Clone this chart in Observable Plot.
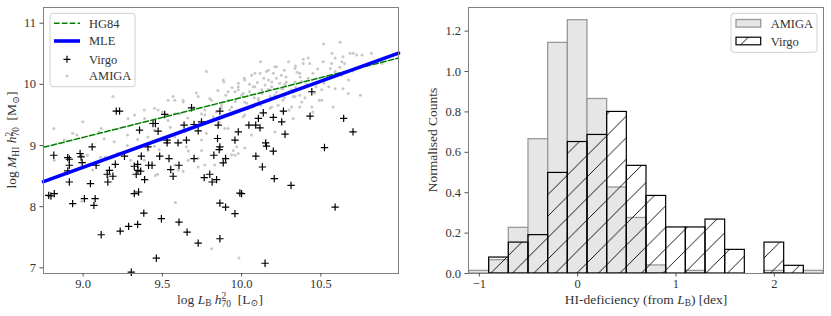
<!DOCTYPE html>
<html><head><meta charset="utf-8">
<script src="https://cdn.jsdelivr.net/npm/d3@7"></script>
<script src="https://cdn.jsdelivr.net/npm/@observablehq/plot@0.6"></script>
<style>
body{margin:0;background:#fff;}
#wrap{position:relative;width:831px;height:316px;}
#left{position:absolute;left:0;top:0;}
#right{position:absolute;left:420px;top:0;}
</style></head><body><div id="wrap"><div id="left"></div><div id="right"></div></div>
<script>
const FONT = "'Liberation Serif', 'DejaVu Serif', serif";
const TXT = "#333";

// ---- Left panel data ----
const virgoLogL = [9.209,9.230,9.684,9.515,9.863,10.443,10.432,10.644,10.703,10.523,10.137,10.2,10.264,10.106,10.253,10.046,10.089,10.116,10.274,9.979,10.152,10.157,10.2,9.958,9.848,9.863,9.859,10.09,9.899,9.825,9.852,9.747,9.70,9.726,9.637,9.652,9.599,9.53,9.53,9.441,9.456,9.473,9.356,9.409,9.483,9.542,9.70,9.367,9.261,9.057,8.981,8.987,8.903,8.913,8.815,8.913,8.903,8.913,8.994,8.783,8.797,8.818,8.934,9.008,9.046,9.082,9.076,9.068,9.114,9.152,9.166,9.156,9.188,9.203,9.234,9.287,9.304,9.323,9.35,9.323,9.344,9.335,9.346,9.363,9.388,9.383,9.344,9.413,9.435,9.462,9.494,9.553,9.568,9.605,9.605,9.656,9.726,9.764,9.799,9.814,9.842,9.863,9.899,9.863,9.884,9.958,9.989,10.0,10.131,10.148,10.206,10.312,10.59];
const virgoLogM = [9.562,9.562,9.617,9.508,9.562,9.879,9.48,9.443,9.223,8.967,9.535,9.459,9.562,9.443,9.387,9.333,9.333,9.289,9.185,9.223,9.043,8.989,8.907,9.087,9.115,8.977,8.934,8.825,8.787,8.841,9.333,9.387,9.344,9.239,9.333,9.087,9.043,9.087,9.043,9.36,9.36,9.234,9.251,8.977,8.825,8.787,8.787,8.825,8.825,8.977,8.869,8.813,8.803,8.775,8.841,8.677,8.584,8.403,8.721,8.185,8.174,8.213,8.049,8.131,8.377,8.677,8.131,8.021,7.541,8.53,8.595,8.403,8.497,8.693,7.60,7.677,6.928,8.213,8.24,8.661,8.693,8.53,8.595,8.579,8.443,7.895,7.71,8.677,8.677,7.157,7.803,8.607,8.497,8.677,7.748,7.584,7.403,8.475,8.53,8.403,8.443,8.059,7.993,7.475,8.715,7.885,8.223,8.213,8.649,7.075,8.458,8.349,7.993];

const amigaLogL = [10.517,10.622,10.685,10.76,10.82,10.886,10.633,10.59,10.57,10.39,10.296,10.43,10.337,10.21,10.157,10.084,10.02,9.778,9.979,9.884,9.188,9.114,8.998,8.815,8.934,9.451,9.473,9.578,9.631,9.726,9.799,9.958,10.074,10.169,10.274,10.369,10.59,10.675,10.749,10.506,10.38,10.337,9.325,9.388,9.283,9.61,9.768,9.873,9.937,10.02,10.106,10.21,10.253,10.127,10.01,9.915,9.82,9.747,9.536,9.641,9.578,9.494,9.409,9.747,9.915,10.02,10.19,10.316,10.443,10.506,10.59,10.41,10.316,10.19,
10.12,9.888,10.017,10.063,10.116,10.169,10.22,9.567,9.715,9.631,9.536,9.81,9.915,9.979,10.0,10.084,10.148,10.19,10.22,10.032,10.106,10.18,9.873,9.925,9.768,9.578,10.01,10.18,10.23,9.894,9.778,10.063,10.21,
10.42,10.388,10.515,10.568,10.64,10.65,10.705,10.726,10.45,10.536,10.63,10.367,10.283,10.336,10.4,10.47,10.55,10.64,10.673,10.577,10.49,10.367,10.325,10.26,10.367,10.30,10.325,10.45,10.26,10.25,10.27,
9.652,9.663,9.747,9.578,9.6,9.631,9.663,9.726,9.83,9.947,9.968,10.02,9.937,9.582,9.81,9.983,
8.818,8.998,8.992,9.06,9.156,9.456,9.47,9.726,9.768,9.958,9.979,
9.386,9.50,8.96,8.88,9.10,9.133,9.196,9.28,9.344,9.28,9.45,9.41,9.48,9.217,9.027,9.11,9.14,9.30,9.386,
10.05,10.08,10.13,10.17,10.22,10.27,10.30,10.34,10.38,10.42,10.35,10.28,10.24,10.14,10.10,10.05,9.98,9.94,9.90,9.85,9.96,10.04,10.12,10.26,10.40,10.46,10.52,10.48,10.56,10.62,10.70,10.34,10.20,9.84,9.70,9.66,9.55,9.45,9.62,9.86];
const amigaLogM = [10.66,10.69,10.51,10.48,10.51,10.34,10.37,10.43,10.51,10.41,10.37,10.34,10.26,10.29,10.21,10.18,10.07,10.21,9.96,10.07,9.80,9.28,9.39,9.28,9.20,9.61,9.58,9.74,9.71,9.80,9.77,9.88,9.96,10.07,10.0,10.12,10.21,10.07,9.82,9.74,9.71,9.80,9.50,9.44,9.44,9.52,9.58,9.66,9.63,9.71,9.77,9.82,9.93,9.91,9.85,9.74,9.47,9.52,9.41,9.22,9.14,9.09,9.14,9.09,9.28,9.50,9.63,9.63,9.63,9.91,9.93,10.0,9.91,9.96,
10.37,10.04,10.1,10.15,10.18,10.23,10.29,9.8,9.86,9.74,9.74,9.74,9.88,9.91,9.82,9.96,9.99,10.04,10.1,9.69,9.74,9.80,9.61,9.58,9.50,9.52,9.47,9.61,9.66,9.28,9.20,9.17,9.22,
10.43,10.34,10.37,10.34,10.45,10.34,10.51,10.48,10.18,10.12,10.15,10.18,10.04,10.04,9.96,9.96,9.96,9.93,9.85,9.63,9.74,9.82,9.8,9.74,9.63,9.58,9.44,9.55,9.93,10.15,10.23,
8.98,8.91,8.92,8.68,8.6,8.58,8.76,8.65,8.68,8.92,8.98,8.96,8.85,8.07,7.31,7.16,
8.76,8.84,8.09,8.6,8.49,8.51,8.53,8.79,8.68,8.84,8.87,
9.58,9.55,9.17,9.09,9.22,9.11,9.06,9.17,9.10,9.0,8.99,8.92,8.93,8.87,8.84,8.81,8.81,8.76,8.76,
9.88,9.78,9.85,9.92,9.87,9.78,9.88,9.95,10.05,10.10,10.20,10.12,10.02,10.10,10.03,10.00,10.02,9.95,9.82,9.90,9.72,9.60,9.66,9.55,9.78,9.86,10.02,10.25,10.26,10.28,10.22,10.30,10.18,9.55,9.62,9.45,9.30,9.25,9.05,9.38];

// fitted relations (end points at the panel limits)
const fitLogL = [8.75, 10.99];
const hg84LogM = [8.97, 10.43];
const mleLogM = [8.41, 10.51];

const xTicksL = [9.0, 9.5, 10.0, 10.5];
const yTicksL = [7, 8, 9, 10, 11];

// ---- Right panel data ----
const binLeft = [-1.1,-0.9,-0.7,-0.5,-0.3,-0.1,0.1,0.3,0.5,0.7,0.9,1.1,1.3,1.5,1.7,1.9,2.1,2.3];
const amigaNorm = [0.013,0.066,0.226,0.665,1.142,1.254,0.864,0.426,0.275,0.04,0,0.013,0,0,0,0.013,0,0.013];
const virgoNorm = [0,0.079,0.153,0.19,0.498,0.651,0.686,0.80,0.533,0.384,0.228,0.228,0.267,0.117,0,0.153,0.038,0];
const binWidth = 0.2;
const xTicksR = [-1, 0, 1, 2];
const yTicksR = [0, 0.2, 0.4, 0.6, 0.8, 1.0, 1.2];

const virgo = virgoLogL.map((x, i) => ({x, y: virgoLogM[i]}));
const amiga = amigaLogL.map((x, i) => ({x, y: amigaLogM[i]}));
const hg84 = fitLogL.map((x, i) => ({x, y: hg84LogM[i]}));
const mle = fitLogL.map((x, i) => ({x, y: mleLogM[i]}));
const amigaBins = binLeft.map((b, i) => ({x1: b, x2: b + binWidth, v: amigaNorm[i]})).filter(d => d.v > 0);
const virgoBins = binLeft.map((b, i) => ({x1: b, x2: b + binWidth, v: virgoNorm[i]})).filter(d => d.v > 0);

const style = {fontFamily: FONT, fontSize: "12.5px", color: TXT, background: "white", overflow: "visible"};
const fmtInt = d => (d < 0 ? "\u2212" : "") + Math.abs(d);

const left = Plot.plot({
  width: 410, height: 316,
  marginLeft: 43, marginRight: 12, marginTop: 7, marginBottom: 43,
  style,
  x: {domain: [8.75, 10.99], label: null},
  y: {domain: [6.907, 11.257], label: null},
  marks: [
    Plot.dot(amiga, {x: "x", y: "y", r: 1.5, fill: "#c8c8c8", stroke: null}),
    Plot.dot(virgo, {x: "x", y: "y", symbol: "plus", r: 2.5, stroke: "#000", strokeWidth: 1.2}),
    Plot.line(hg84, {x: "x", y: "y", stroke: "#008000", strokeWidth: 1.5, strokeDasharray: "5.5,2.4"}),
    Plot.line(mle, {x: "x", y: "y", stroke: "#0000ff", strokeWidth: 3.6}),
    Plot.frame({stroke: "#808080"}),
    Plot.axisX({ticks: xTicksL, tickFormat: d => d.toFixed(1), tickSize: 3.5, tickPadding: 2, label: null, stroke: "#555"}),
    Plot.axisY({ticks: yTicksL, tickFormat: fmtInt, tickSize: 3.5, tickPadding: 4, label: null, stroke: "#555"})
  ]
});

const right = Plot.plot({
  width: 411, height: 316,
  marginLeft: 48, marginRight: 8, marginTop: 7, marginBottom: 43,
  style,
  x: {domain: [-1.11, 2.5], label: null},
  y: {domain: [0, 1.317], label: null},
  marks: [
    Plot.rect(amigaBins, {x1: "x1", x2: "x2", y1: () => 0, y2: "v", fill: "#e6e6e6", stroke: "#999", strokeWidth: 1.3}),
    Plot.rect(virgoBins, {x1: "x1", x2: "x2", y1: () => 0, y2: "v", fill: "url(#hatchR)", stroke: "#000", strokeWidth: 1.2}),
    Plot.frame({stroke: "#808080"}),
    Plot.axisX({ticks: xTicksR, tickFormat: fmtInt, tickSize: 3.5, tickPadding: 2, label: null, stroke: "#555"}),
    Plot.axisY({ticks: yTicksR, tickFormat: d => d.toFixed(1), tickSize: 3.5, tickPadding: 4, label: null, stroke: "#555"})
  ]
});

document.getElementById("left").appendChild(left);
document.getElementById("right").appendChild(right);

function hatch(svg, id) {
  const s = 21.5;
  const p = svg.insert("defs", ":first-child").append("pattern")
    .attr("id", id).attr("patternUnits", "userSpaceOnUse")
    .attr("width", s).attr("height", s);
  const g = p.append("g").attr("stroke", "#000").attr("stroke-width", 0.9);
  g.append("line").attr("x1", 0).attr("y1", s).attr("x2", s).attr("y2", 0);
  g.append("line").attr("x1", -2).attr("y1", 2).attr("x2", 2).attr("y2", -2);
  g.append("line").attr("x1", s - 2).attr("y1", s + 2).attr("x2", s + 2).attr("y2", s - 2);
}

// rich text: parts = [text, kind, extra]; kinds: n, i, sub, stack (sup with sub under it)
function rich(t, parts, fs) {
  const small = fs * 0.7;
  let pend = 0;
  const add = (txt, opts = {}) => {
    const s = t.append("tspan").text(txt);
    const dy = (opts.dy || 0) + pend;
    pend = 0;
    if (dy) s.attr("dy", dy);
    if (opts.dx) s.attr("dx", opts.dx);
    if (opts.italic) s.attr("font-style", "italic");
    if (opts.small) s.attr("font-size", small);
    return s;
  };
  parts.forEach(([txt, kind, extra]) => {
    if (kind === "n") add(txt);
    else if (kind === "i") add(txt, {italic: true});
    else if (kind === "sub") { add(txt, {small: true, dy: fs * 0.22}); pend = -fs * 0.22; }
    else if (kind === "stack") {
      add(txt, {small: true, dy: -fs * 0.32});
      add(extra[0], {small: true, dx: -extra[1], dy: fs * 0.56});
      pend = -fs * 0.24;
    }
  });
}

const L = d3.select(left);
const R = d3.select(right);
hatch(R, "hatchR");
const LFS = 13.5;

// left x label
{
  const t = L.append("text").attr("x", 220).attr("y", 303.5).attr("text-anchor", "middle")
    .attr("font-family", FONT).attr("font-size", LFS).attr("fill", TXT);
  rich(t, [["log ", "n"], ["L", "i"], ["B", "sub"], [" ", "n"], ["h", "i"], ["2", "stack", ["70", 4.7]], ["  [L", "n"], ["\u2299", "sub"], ["]", "n"]], LFS);
}
// left y label
{
  const t = L.append("text").attr("transform", "translate(16,140) rotate(-90)").attr("text-anchor", "middle")
    .attr("font-family", FONT).attr("font-size", LFS).attr("fill", TXT);
  rich(t, [["log ", "n"], ["M", "i"], ["HI", "sub"], [" ", "n"], ["h", "i"], ["2", "stack", ["70", 4.7]], ["  [M", "n"], ["\u2299", "sub"], ["]", "n"]], LFS);
}
// right x label
{
  const t = R.append("text").attr("x", 226).attr("y", 303.5).attr("text-anchor", "middle")
    .attr("font-family", FONT).attr("font-size", LFS).attr("fill", TXT);
  rich(t, [["HI-deficiency (from ", "n"], ["L", "i"], ["B", "sub"], [") [dex]", "n"]], LFS);
}
// right y label
R.append("text").attr("transform", "translate(17,140) rotate(-90)").attr("text-anchor", "middle")
  .attr("font-family", FONT).attr("font-size", LFS).attr("fill", TXT).text("Normalised Counts");

// left legend
{
  const g = L.append("g").attr("font-family", FONT).attr("font-size", 12.5).attr("fill", TXT).attr("text-anchor", "start");
  g.append("rect").attr("x", 50).attr("y", 13.3).attr("width", 85).attr("height", 73.4).attr("rx", 3)
    .attr("fill", "#fff").attr("fill-opacity", 0.8).attr("stroke", "#d0d0d0");
  g.append("line").attr("x1", 54).attr("x2", 80).attr("y1", 23.3).attr("y2", 23.3)
    .attr("stroke", "#008000").attr("stroke-width", 1.5).attr("stroke-dasharray", "5.5,2.4");
  g.append("line").attr("x1", 54).attr("x2", 80).attr("y1", 41).attr("y2", 41)
    .attr("stroke", "#0000ff").attr("stroke-width", 3.6);
  g.append("path").attr("d", "M63.5,59.3H70.5M67,55.8V62.8").attr("stroke", "#000").attr("stroke-width", 1.2);
  g.append("circle").attr("cx", 67).attr("cy", 76).attr("r", 1.5).attr("fill", "#c8c8c8");
  [["HG84", 27.6], ["MLE", 45.3], ["Virgo", 63.7], ["AMIGA", 80.4]].forEach(([s, y]) =>
    g.append("text").attr("x", 89).attr("y", y).text(s));
}
// right legend
{
  const g = R.append("g").attr("font-family", FONT).attr("font-size", 12.5).attr("fill", TXT).attr("text-anchor", "start");
  g.append("rect").attr("x", 311).attr("y", 13.3).attr("width", 86).attr("height", 39).attr("rx", 3)
    .attr("fill", "#fff").attr("fill-opacity", 0.8).attr("stroke", "#d0d0d0");
  g.append("rect").attr("x", 316).attr("y", 19.5).attr("width", 24.7).attr("height", 7.6)
    .attr("fill", "#e6e6e6").attr("stroke", "#999").attr("stroke-width", 1.3);
  g.append("rect").attr("x", 316).attr("y", 37.2).attr("width", 24.7).attr("height", 7.6)
    .attr("fill", "url(#hatchR)").attr("stroke", "#000").attr("stroke-width", 1.2);
  g.append("text").attr("x", 350.7).attr("y", 28).text("AMIGA");
  g.append("text").attr("x", 350.7).attr("y", 45.6).text("Virgo");
}
</script>
</body></html>
